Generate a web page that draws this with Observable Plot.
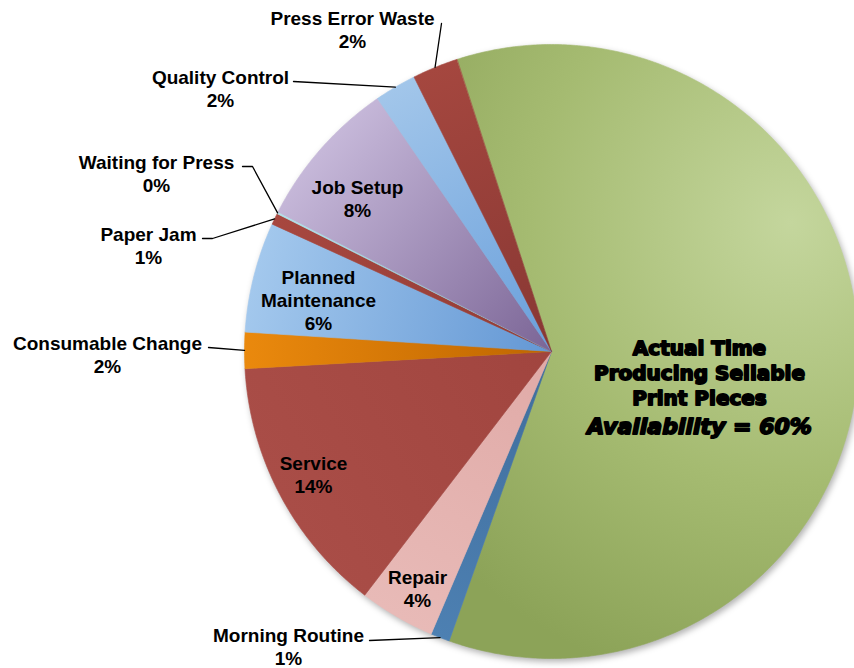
<!DOCTYPE html>
<html><head><meta charset="utf-8">
<script src="https://cdn.jsdelivr.net/npm/d3@7"></script>
<script src="https://cdn.jsdelivr.net/npm/@observablehq/plot@0.6"></script>
<style>
html,body{margin:0;padding:0;background:#fff;}
#chart svg{display:block;}
</style>
</head><body><div id="chart"></div>
<script>
// ---- data ----
const categories = ["Actual Time Producing Sellable Print Pieces","Morning Routine","Repair","Service","Consumable Change","Planned Maintenance","Paper Jam","Waiting for Press","Job Setup","Quality Control","Press Error Waste"];
const values = [60.4, 1.0, 4.0, 13.7, 1.9, 5.8, 0.6, 0.1, 7.9, 2.2, 2.4];
const percentLabels = ["60%","1%","4%","14%","2%","6%","1%","0%","8%","2%","2%"];
const labelNames = ["", "Morning Routine", "Repair", "Service", "Consumable Change", "Planned\nMaintenance", "Paper Jam", "Waiting for Press", "Job Setup", "Quality Control", "Press Error Waste"];
const mainLabelLines = ["Actual Time", "Producing Sellable", "Print Pieces"];
const mainLabelItalic = "Availability = 60%";

// ---- styles / layout ----
const sliceLight = ["#c4d69d","#4d80b2","#e8bab7","#a94d47","#ea890d","#a3c8ed","#a7473f","#b3e2ea","#c6b8d9","#a2c6ea","#a5473f"];
const sliceDark  = ["#8ca358","#3f6d9c","#e0aaa7","#a1453f","#bf6600","#6397d4","#933c36","#8cc8d5","#7b6596","#699fdb","#883733"];
const W = 854, H = 668, CX = 551, CY = 351, R = 307;
const startDeg = -17.97;
// label block centers (pixels) per slice index
const labelPos = {1:[288,646],2:[417,587.5],3:[313,473.5],4:[107,353.5],5:[318,299],6:[148,244.5],7:[156,172.5],8:[357,197.5],9:[220,87.5],10:[352,28.5]};
// leader line start points (pixels) for outside labels
const leaderStart = {10:[[441,23]],9:[[293,81]],7:[[242,166],[252,166]],6:[[202,238],[212,238]],4:[[208,347]],1:[[369,640]]};

const xS = Plot.scale({x:{domain:[-1,1], range:[CX-R, CX+R]}});
const yS = Plot.scale({y:{domain:[-1,1], range:[CY+R, CY-R]}});

const arcs = d3.pie().sort(null).value(d => d)
  .startAngle(startDeg*Math.PI/180).endAngle(startDeg*Math.PI/180 + 2*Math.PI)(values);

const slicePoints = [];
const mids = [];
arcs.forEach((p, i) => {
  const span = p.endAngle - p.startAngle;
  const n = Math.max(2, Math.ceil(span / (Math.PI/360)));
  const paint = `url(#sg${i})`;
  slicePoints.push({id:i, x:0, y:0, paint});
  for (let k = 0; k <= n; k++) {
    const a = p.startAngle + span*k/n;
    slicePoints.push({id:i, x: Math.sin(a), y: Math.cos(a), paint});
  }
  mids.push((p.startAngle + p.endAngle)/2);
});

// leader lines
const leaderData = [];
Object.entries(leaderStart).forEach(([k, pts]) => {
  const i = +k;
  pts.forEach(([px,py]) => leaderData.push({id:i, x:xS.invert(px), y:yS.invert(py)}));
  leaderData.push({id:i, x:Math.sin(mids[i]), y:Math.cos(mids[i])});
});

const labelData = Object.entries(labelPos).map(([k,[px,py]]) => ({
  x: xS.invert(px), y: yS.invert(py), text: labelNames[+k] + "\n" + percentLabels[+k]
}));

const mainLines = mainLabelLines.map((t, j) => ({x: xS.invert(699), y: yS.invert(348 + 25*j), text: t}));
const mainItalic = [{x: xS.invert(699), y: yS.invert(426), text: mainLabelItalic}];

const plot = Plot.plot({
  width: W, height: H,
  margin: 0,
  x: {domain:[-1,1], range:[CX-R, CX+R], axis:null},
  y: {domain:[-1,1], range:[CY+R, CY-R], axis:null},
  style: {background:"#fff", overflow:"hidden"},
  marks: [
    Plot.line(slicePoints, {x:"x", y:"y", z:"id", curve:"linear-closed",
      fill:{value:"paint", scale:null}, stroke:{value:"paint", scale:null}, strokeWidth:0.6}),
    Plot.line(leaderData, {x:"x", y:"y", z:"id", stroke:"#000", strokeWidth:1.3, curve:"linear"}),
    Plot.text(labelData, {x:"x", y:"y", text:"text", fontSize:19, fontWeight:"bold",
      fontFamily:"'Liberation Sans', Arial, sans-serif", fill:"#000", lineHeight:1.21,
      textAnchor:"middle", lineAnchor:"middle"}),
    Plot.text(mainLines, {x:"x", y:"y", text:"text", fontSize:20, fontWeight:"bold",
      fontFamily:"'DejaVu Sans', sans-serif", fill:"#000", stroke:"#000", strokeWidth:1.8,
      textAnchor:"middle", lineAnchor:"middle"}),
    Plot.text(mainItalic, {x:"x", y:"y", text:"text", fontSize:22, fontWeight:"bold", fontStyle:"italic",
      fontFamily:"'DejaVu Sans', sans-serif", fill:"#000", stroke:"#000", strokeWidth:1.8,
      textAnchor:"middle", lineAnchor:"middle"})
  ]
});

// gradients
const svg = d3.select(plot);
const defs = svg.insert("defs", ":first-child");
mids.forEach((m, i) => {
  if (i === 0) {
    const g = defs.append("radialGradient").attr("id","sg0").attr("gradientUnits","userSpaceOnUse")
      .attr("cx", xS.apply(0.78)).attr("cy", yS.apply(0.42)).attr("r", R*1.55);
    g.append("stop").attr("offset",0).attr("stop-color",sliceLight[0]);
    g.append("stop").attr("offset",0.55).attr("stop-color","#a5bb71");
    g.append("stop").attr("offset",1).attr("stop-color",sliceDark[0]);
  } else {
    const g = defs.append("linearGradient").attr("id","sg"+i).attr("gradientUnits","userSpaceOnUse")
      .attr("x1", xS.apply(Math.sin(m))).attr("y1", yS.apply(Math.cos(m)))
      .attr("x2", xS.apply(0)).attr("y2", yS.apply(0));
    g.append("stop").attr("offset",0).attr("stop-color",sliceLight[i]);
    g.append("stop").attr("offset",1).attr("stop-color",sliceDark[i]);
  }
});
svg.select("g[aria-label='line']").style("filter","drop-shadow(2px 3px 3px rgba(0,0,0,0.3))");

document.getElementById("chart").appendChild(plot);
</script>
</body></html>
